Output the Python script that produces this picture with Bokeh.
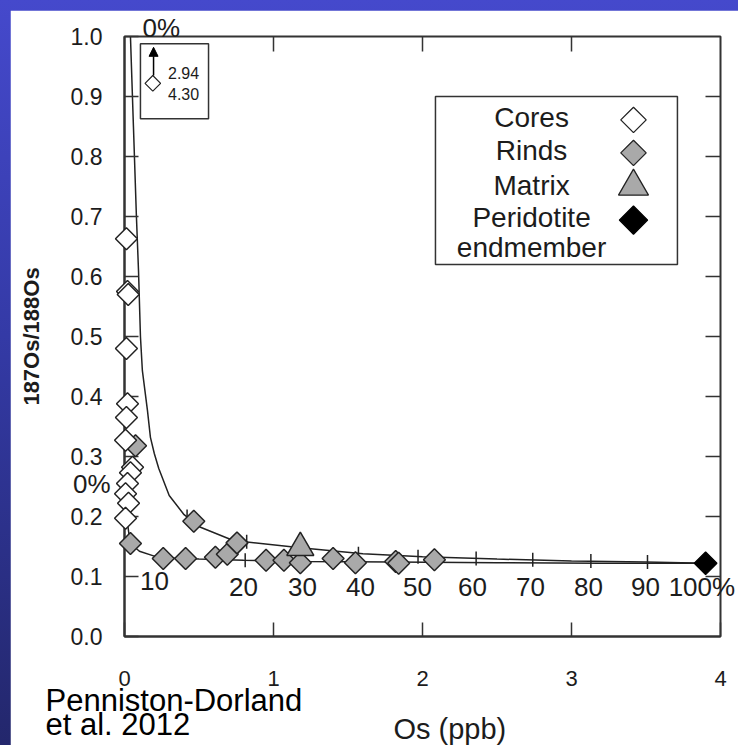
import numpy as np
from bokeh.plotting import figure
from bokeh.models import (ColumnDataSource, LinearAxis, FixedTicker, PrintfTickFormatter,
                          Arrow, NormalHead, Range1d, BoxAnnotation)
from bokeh.layouts import column
from bokeh.embed import file_html
from bokeh.resources import INLINE
from bokeh.core.properties import value

FONT = "Liberation Sans"
INK = "#1c1c1c"

# ---------------- data ----------------
cores_x = [0.013, 0.02, 0.025, 0.013, 0.02, 0.013, 0.007, 0.054, 0.04, 0.02, 0.007, 0.027, 0.007]
cores_y = [0.663, 0.575, 0.570, 0.48, 0.388, 0.365, 0.327, 0.282, 0.273, 0.255, 0.238, 0.222, 0.197]
cores_off_scale = ["2.94", "4.30"]

rinds_x = [0.04, 0.074, 0.26, 0.41, 0.61, 0.69, 0.755, 0.465, 0.95, 1.07, 1.18, 1.40, 1.55, 1.82, 1.84, 2.08]
rinds_y = [0.155, 0.318, 0.13, 0.13, 0.132, 0.137, 0.156, 0.192, 0.127, 0.127, 0.123, 0.13, 0.123, 0.125, 0.122, 0.128]

matrix_x = [1.18]
matrix_y = [0.148]

perid_x = [3.9]
perid_y = [0.122]

upper_x = [0.04, 0.06, 0.08, 0.094, 0.107, 0.12, 0.154, 0.174, 0.2, 0.23, 0.3, 0.4, 0.51, 0.73,
           1.18, 1.6, 2.0, 2.5, 3.0, 3.5, 3.9]
upper_y = [1.0, 0.85, 0.7, 0.61, 0.5, 0.443, 0.377, 0.332, 0.305, 0.28, 0.235, 0.203, 0.182, 0.16,
           0.148, 0.138, 0.133, 0.129, 0.126, 0.124, 0.122]

lower_x = [0.005, 0.015, 0.03, 0.05, 0.1, 0.2, 0.3, 0.5, 0.8, 1.2, 1.8, 2.5, 3.2, 3.9]
lower_y = [0.25, 0.2, 0.17, 0.153, 0.142, 0.134, 0.131, 0.129, 0.127, 0.125, 0.124, 0.123, 0.122, 0.122]

# percent tick marks on the mixing curves
upper_tick_x = [0.42, 0.82, 1.2, 1.57, 1.97, 2.36, 2.74, 3.13, 3.51]
upper_tick_y = [0.2, 0.158, 0.147, 0.138, 0.133, 0.13, 0.128, 0.126, 0.124]
lower_tick_x = [0.39, 0.81]
lower_tick_y = [0.13, 0.127]

pct_labels = ["10", "20", "30", "40", "50", "60", "70", "80", "90", "100%"]

x_ticks = [0, 1, 2, 3, 4]
y_ticks = [0.0, 0.1, 0.2, 0.3, 0.4, 0.5, 0.6, 0.7, 0.8, 0.9, 1.0]

legend_names = ["Cores", "Rinds", "Matrix", "Peridotite", "endmember"]

# ---------------- figure ----------------
p = figure(width=728, height=735, output_backend="svg", toolbar_location=None,
           x_range=Range1d(0, 4), y_range=Range1d(0, 1.0),
           x_axis_location=None, y_axis_location=None,
           min_border_left=114, min_border_right=18, min_border_top=26, min_border_bottom=109,
           background_fill_color="white", border_fill_color="white")
p.grid.visible = False
p.outline_line_color = "#333333"
p.outline_line_width = 2

common = dict(minor_tick_line_color=None, axis_line_color="#333333", axis_line_width=2,
              major_tick_line_color="#333333", major_tick_line_width=1.5, major_tick_out=0,
              major_label_text_font=FONT, major_label_text_color=INK)

yl = LinearAxis(ticker=FixedTicker(ticks=y_ticks), formatter=PrintfTickFormatter(format="%.1f"),
                major_tick_in=14, major_label_standoff=22, major_label_text_font_size="23px",
                axis_label="187Os/188Os", axis_label_text_font=FONT, axis_label_text_font_style="bold",
                axis_label_text_font_size="22px", axis_label_standoff=24, axis_label_text_color=INK,
                **common)
p.add_layout(yl, "left")

xb = LinearAxis(ticker=FixedTicker(ticks=x_ticks), major_tick_in=14, major_label_standoff=34,
                major_label_text_font_size="22px", **common)
p.add_layout(xb, "below")

# inward ticks on the top and right frame edges (outer halves are clipped by the frame)
TICK = "#333333"
p.scatter(x_ticks[1:-1], [y_ticks[-1]] * 3, marker="dash", angle=np.pi / 2, size=30,
          line_color=TICK, line_width=1.5)
p.scatter([x_ticks[-1]] * 9, y_ticks[1:-1], marker="dash", size=30,
          line_color=TICK, line_width=1.5)

# ---------------- mixing curves ----------------
p.line(upper_x, upper_y, line_color="#222222", line_width=1.5)
p.line(lower_x, lower_y, line_color="#222222", line_width=1.5)
p.scatter(upper_tick_x, upper_tick_y, marker="dash", angle=np.pi / 2, size=14,
          line_color="#222222", line_width=1.5)
p.scatter(lower_tick_x, lower_tick_y, marker="dash", angle=np.pi / 2, size=14,
          line_color="#222222", line_width=1.5)

# ---------------- data markers ----------------
GRAY = "#a9a9a9"
EDGE = "#222222"
p.scatter(rinds_x, rinds_y, marker="square", angle=np.pi / 4, size=15.5,
          fill_color=GRAY, line_color=EDGE, line_width=1.5, level="overlay")
p.scatter(matrix_x, matrix_y, marker="triangle", size=27,
          fill_color=GRAY, line_color=EDGE, line_width=1.5, level="overlay")
p.scatter(cores_x, cores_y, marker="square", angle=np.pi / 4, size=15.5,
          fill_color="white", line_color=EDGE, line_width=1.5, level="overlay")
p.scatter(perid_x, perid_y, marker="square", angle=np.pi / 4, size=16,
          fill_color="black", line_color="black", line_width=1.3, level="overlay")


def txt(x, y, s, size, align="left", color=INK):
    p.text(x=[x], y=[y], text=[s], text_font=value(FONT), text_font_size=value(size),
           text_align=align, text_baseline="middle", text_color=color, level="overlay")


# ---------------- percent labels ----------------
pct_src = ColumnDataSource(dict(
    x=[0.201, 0.799, 1.195, 1.584, 1.966, 2.336, 2.725, 3.114, 3.497, 3.875],
    y=[0.092, 0.082, 0.082, 0.082, 0.082, 0.082, 0.082, 0.082, 0.082, 0.082],
    text=pct_labels))
p.text(x="x", y="y", text="text", source=pct_src, text_align="center",
       text_baseline="middle", text_font=value(FONT), text_font_size=value("26px"),
       text_color=INK, level="overlay")

txt(0.121, 1.015, "0%", "26px")
txt(-0.094, 0.255, "0%", "26px", align="right")

# ---------------- inset for off-scale cores ----------------
p.add_layout(BoxAnnotation(left=0.107, right=0.564, top=0.988, bottom=0.863,
                           fill_color="white", fill_alpha=1, line_color="#333333",
                           line_alpha=1, line_width=1.5, level="underlay"))
p.add_layout(Arrow(end=NormalHead(size=9, fill_color="black", line_color="black"),
                   x_start=0.195, y_start=0.935, x_end=0.195, y_end=0.982,
                   line_color="black", line_width=1.5))
p.scatter([0.19], [0.922], marker="square", angle=np.pi / 4, size=11,
          fill_color="white", line_color=EDGE, line_width=1.2)
txt(0.292, 0.94, cores_off_scale[0], "16px")
txt(0.292, 0.905, cores_off_scale[1], "16px")

# ---------------- legend (text centred, key to the right) ----------------
p.add_layout(BoxAnnotation(left=2.087, right=3.711, top=0.9, bottom=0.62,
                           fill_color="white", fill_alpha=1, line_color="#333333",
                           line_alpha=1, line_width=1.5, level="underlay"))
row_y = [0.865, 0.81, 0.752, 0.698, 0.648]
for name, yy in zip(legend_names, row_y):
    txt(2.732, yy, name, "28px", align="center")
key_x = 3.416
p.scatter([key_x], [row_y[0] - 0.004], marker="square", angle=np.pi / 4, size=18,
          fill_color="white", line_color=EDGE, line_width=1.3)
p.scatter([key_x], [row_y[1] - 0.004], marker="square", angle=np.pi / 4, size=18,
          fill_color=GRAY, line_color=EDGE, line_width=1.3)
p.scatter([key_x], [row_y[2] - 0.002], marker="triangle", size=30,
          fill_color=GRAY, line_color=EDGE, line_width=1.3)
p.scatter([key_x], [row_y[3] - 0.004], marker="square", angle=np.pi / 4, size=20,
          fill_color="black", line_color="black", line_width=1.3)

# ---------------- texts below the chart ----------------
txt(1.805, -0.154, "Os (ppb)", "29px")
txt(-0.53, -0.107, "Penniston-Dorland", "31px", color="black")
txt(-0.53, -0.147, "et al. 2012", "31px", color="black")

page = column(p, styles={"background": "linear-gradient(to bottom, #4549cc 0%, #343aa6 45%, #23276c 100%)",
                         "padding": "10px 0px 0px 10px"})

open("out.html", "w").write(file_html(page, INLINE))
